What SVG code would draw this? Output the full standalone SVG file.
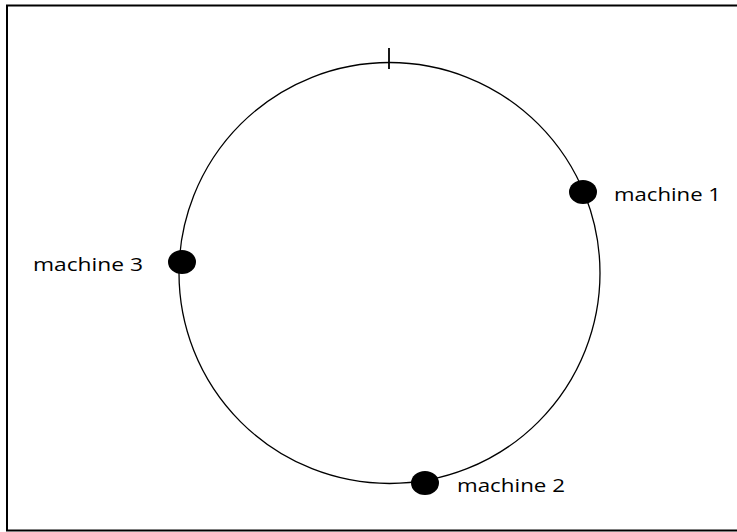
<svg xmlns="http://www.w3.org/2000/svg" width="737" height="532" viewBox="0 0 737 532">
<style>
.lbl{font-family:"Open Sans","Noto Sans",sans-serif;font-size:19px;fill:#000}
.dot{fill:#000}
</style>
<rect x="0" y="0" width="737" height="532" fill="#fff"/>
<rect x="7" y="5.5" width="740" height="525" fill="none" stroke="#000" stroke-width="2"/>
<g id="connectors">
<circle cx="389.5" cy="273" r="210.5" fill="none" stroke="#000" stroke-width="1.3"/>
<line x1="389" y1="48" x2="389" y2="69" stroke="#000" stroke-width="1.8"/>
</g>
<g id="machine1"><ellipse class="dot" cx="583" cy="192" rx="14" ry="12"/><text class="lbl" x="614" y="201" textLength="107" lengthAdjust="spacingAndGlyphs">machine 1</text></g>
<g id="machine2"><ellipse class="dot" cx="425" cy="483" rx="14" ry="12"/><text class="lbl" x="457" y="492" textLength="108" lengthAdjust="spacingAndGlyphs">machine 2</text></g>
<g id="machine3"><ellipse class="dot" cx="182" cy="262" rx="14" ry="12"/><text class="lbl" x="33" y="271" textLength="110" lengthAdjust="spacingAndGlyphs">machine 3</text></g>
</svg>
